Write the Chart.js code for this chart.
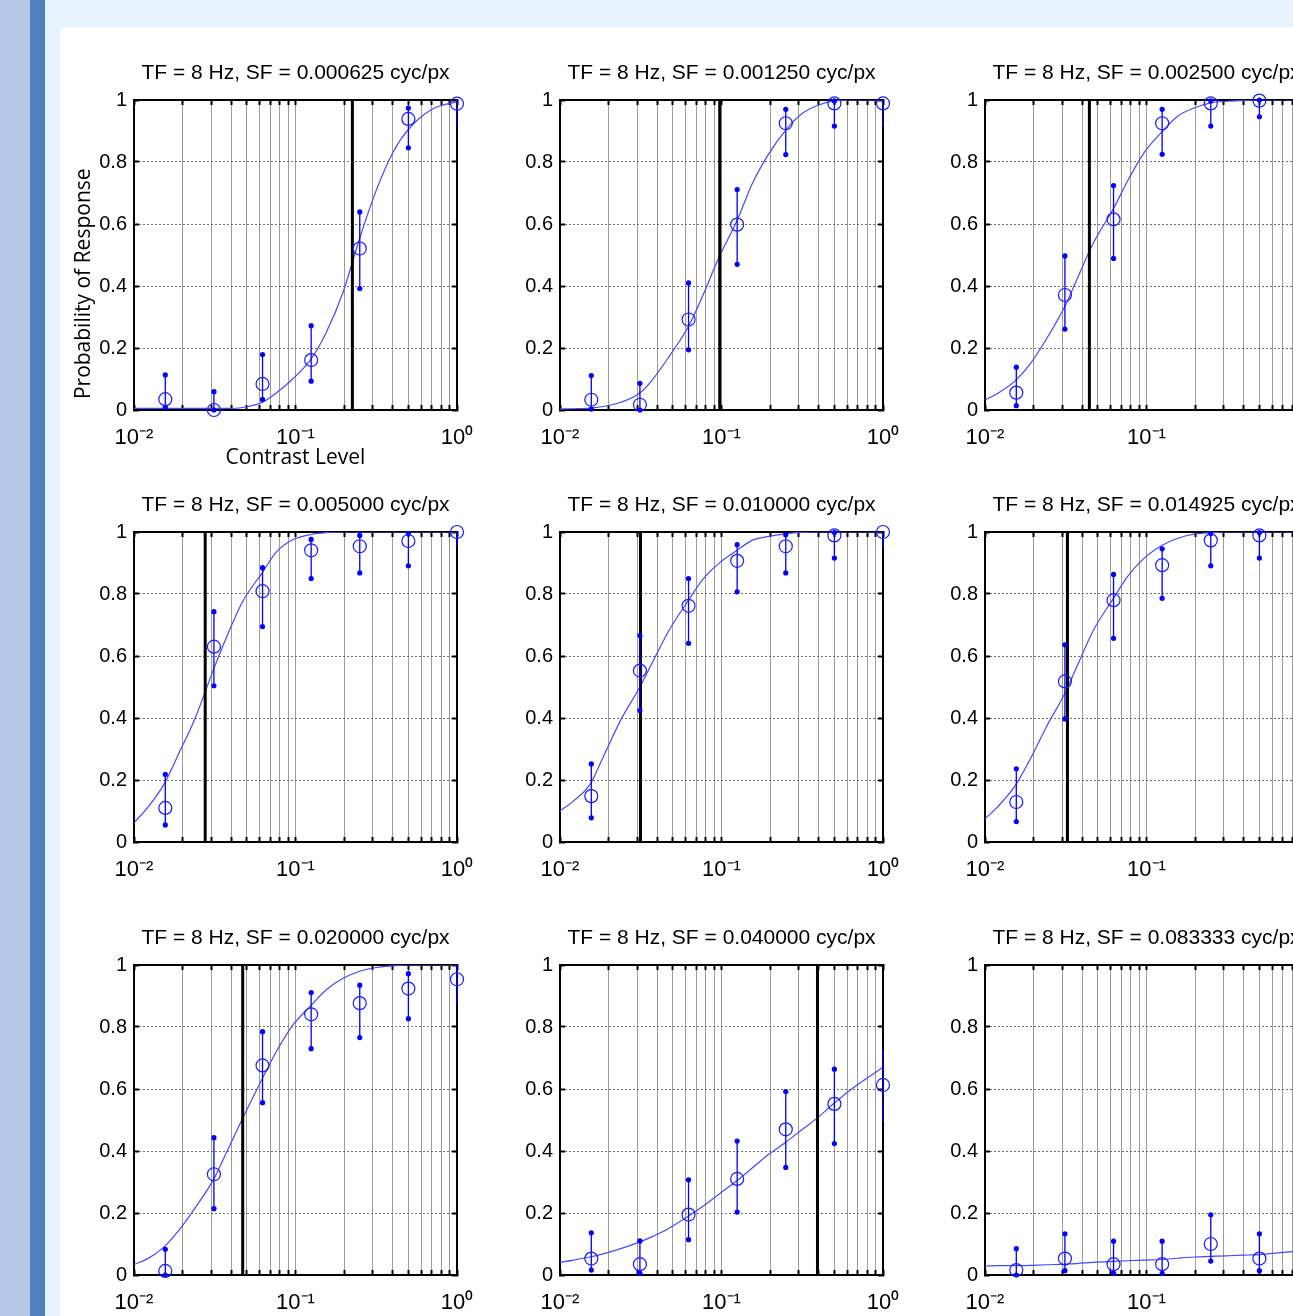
<!DOCTYPE html>
<html>
<head>
<meta charset="utf-8">
<script src="https://cdn.jsdelivr.net/npm/chart.js@4.4.1/dist/chart.umd.min.js"></script>
<style>
  body { margin: 0; width: 1293px; height: 1316px; overflow: hidden; position: relative; background: #e8f2fc; }
  .strip-light { position: absolute; left: 0; top: 0; width: 30px; height: 1316px; background: #b6c8e8; }
  .strip-dark { position: absolute; left: 30px; top: 0; width: 15px; height: 1316px; background: #4f80bd; }
  .sheet { position: absolute; left: 60px; top: 27px; width: 1400px; height: 1400px; background: #fff; border-radius: 6px; }
  canvas { position: absolute; }
</style>
</head>
<body>
<div class="strip-light"></div>
<div class="strip-dark"></div>
<div class="sheet"></div>

<script>
// Contrast levels tested and the x positions where the fitted curves were read
const contrastLevels = [0.015625, 0.03125, 0.0625, 0.125, 0.25, 0.5, 1];
const fitContrast = [0.01, 0.0121, 0.0153, 0.019, 0.0238, 0.03125, 0.037, 0.047, 0.0625, 0.076,
  0.096, 0.125, 0.155, 0.197, 0.25, 0.317, 0.4, 0.5, 0.7, 1];

// Ticks
const xTickValues = [0.01, 0.1, 1];
const xTickLabels = ['10⁻²', '10⁻¹', '10⁰'];
const yTickValues = [0, 0.2, 0.4, 0.6, 0.8, 1];
const yTickLabels = ['0', '0.2', '0.4', '0.6', '0.8', '1'];

const spatialFreqs = ['0.000625', '0.001250', '0.002500', '0.005000', '0.010000', '0.014925', '0.020000', '0.040000', '0.083333'];
const thresholds = [0.225, 0.0975, 0.0443, 0.0276, 0.0315, 0.0324, 0.0471, 0.393, null];

// SF = 0.000625
const mean1 = [0.035, 0.0, 0.084, 0.161, 0.521, 0.939, 0.988];
const lower1 = [0.009, 0.0, 0.034, 0.093, 0.392, 0.846, 0.918];
const upper1 = [0.113, 0.059, 0.179, 0.272, 0.639, 0.974, 1.0];
const fit1 = [0.005, 0.005, 0.005, 0.005, 0.005, 0.005, 0.005, 0.008, 0.025, 0.055, 0.10, 0.165, 0.25, 0.38, 0.555, 0.71, 0.83, 0.905, 0.97, 0.995];

// SF = 0.001250
const mean2 = [0.033, 0.017, 0.292, 0.598, 0.925, 0.989, 0.989];
const lower2 = [0.003, 0.0, 0.194, 0.47, 0.824, 0.916, 0.915];
const upper2 = [0.111, 0.086, 0.41, 0.711, 0.97, 0.997, 1.0];
const fit2 = [0.003, 0.004, 0.006, 0.012, 0.025, 0.055, 0.095, 0.17, 0.27, 0.365, 0.49, 0.612, 0.73, 0.828, 0.903, 0.957, 0.984, 0.997, 1.0, 1.0];

// SF = 0.002500
const mean3 = [0.056, 0.371, 0.615, 0.925, 0.989, 0.998, 1.0];
const lower3 = [0.014, 0.261, 0.489, 0.825, 0.916, 0.946, 0.95];
const upper3 = [0.138, 0.497, 0.724, 0.97, 0.997, 1.0, 1.0];
const fit3 = [0.032, 0.055, 0.093, 0.148, 0.226, 0.335, 0.42, 0.54, 0.65, 0.737, 0.828, 0.898, 0.947, 0.974, 0.991, 0.996, 0.999, 1.0, 1.0, 1.0];

// SF = 0.005000
const mean4 = [0.11, 0.63, 0.809, 0.941, 0.954, 0.971, 1.0];
const lower4 = [0.055, 0.504, 0.695, 0.85, 0.868, 0.891, 0.948];
const upper4 = [0.218, 0.743, 0.885, 0.976, 0.989, 0.995, 1.0];
const fit4 = [0.062, 0.11, 0.185, 0.287, 0.397, 0.56, 0.655, 0.775, 0.87, 0.935, 0.975, 0.992, 0.998, 1.0, 1.0, 1.0, 1.0, 1.0, 1.0, 1.0];

// SF = 0.010000
const mean5 = [0.148, 0.553, 0.762, 0.907, 0.954, 0.989, 1.0];
const lower5 = [0.078, 0.424, 0.641, 0.807, 0.868, 0.916, 0.948];
const upper5 = [0.252, 0.666, 0.85, 0.959, 0.991, 0.998, 1.0];
const fit5 = [0.1, 0.132, 0.185, 0.287, 0.394, 0.5, 0.575, 0.68, 0.78, 0.845, 0.898, 0.941, 0.973, 0.986, 0.995, 0.999, 1.0, 1.0, 1.0, 1.0];

// SF = 0.014925
const mean6 = [0.129, 0.518, 0.78, 0.893, 0.973, 0.989, 1.0];
const lower6 = [0.066, 0.397, 0.657, 0.786, 0.891, 0.916, 0.95];
const upper6 = [0.236, 0.636, 0.863, 0.946, 0.995, 0.998, 1.0];
const fit6 = [0.075, 0.116, 0.18, 0.266, 0.368, 0.48, 0.565, 0.684, 0.786, 0.855, 0.914, 0.957, 0.979, 0.993, 0.998, 1.0, 1.0, 1.0, 1.0, 1.0];

// SF = 0.020000
const mean7 = [0.013, 0.325, 0.676, 0.841, 0.877, 0.924, 0.954];
const lower7 = [0.0, 0.214, 0.556, 0.73, 0.766, 0.827, 0.873];
const upper7 = [0.083, 0.443, 0.785, 0.911, 0.935, 0.972, 1.0];
const fit7 = [0.034, 0.052, 0.09, 0.145, 0.215, 0.31, 0.39, 0.505, 0.635, 0.72, 0.805, 0.87, 0.92, 0.957, 0.98, 0.992, 0.997, 1.0, 1.0, 1.0];

// SF = 0.040000
const mean8 = [0.053, 0.035, 0.195, 0.31, 0.47, 0.552, 0.613];
const lower8 = [0.016, 0.005, 0.114, 0.203, 0.347, 0.424, 0.493];
const upper8 = [0.136, 0.11, 0.307, 0.432, 0.592, 0.664, 0.726];
const fit8 = [0.041, 0.048, 0.058, 0.07, 0.085, 0.107, 0.123, 0.15, 0.19, 0.22, 0.26, 0.305, 0.345, 0.39, 0.428, 0.47, 0.51, 0.555, 0.615, 0.67];

// SF = 0.083333
const mean9 = [0.016, 0.053, 0.035, 0.035, 0.1, 0.053, 0.07];
const lower9 = [0.0, 0.014, 0.005, 0.005, 0.045, 0.014, 0.03];
const upper9 = [0.085, 0.133, 0.109, 0.109, 0.194, 0.133, 0.15];
const fit9 = [0.029, 0.03, 0.03, 0.031, 0.033, 0.035, 0.037, 0.041, 0.044, 0.046, 0.048, 0.05, 0.054, 0.058, 0.06, 0.062, 0.064, 0.066, 0.073, 0.078];

const panels = [
  [mean1, lower1, upper1, fit1], [mean2, lower2, upper2, fit2], [mean3, lower3, upper3, fit3],
  [mean4, lower4, upper4, fit4], [mean5, lower5, upper5, fit5], [mean6, lower6, upper6, fit6],
  [mean7, lower7, upper7, fit7], [mean8, lower8, upper8, fit8], [mean9, lower9, upper9, fit9]
];

// Layout (axes box positions on the page)
const colLeft = [134, 560, 985];
const rowTop = [100, 532, 965];
const yAxisW = 80, topH = 49, plotW = 323, plotH = 310, xAxisH = 65, padRight = 40, padBottom = 5;

const sansFont = "'Liberation Sans', Arial, sans-serif";
const labelFont = "'Open Sans', 'DejaVu Sans', sans-serif";

// log grid: 1..9 x each decade
const logGrid = [];
[0.01, 0.1].forEach((d) => {
  for (let k = 1; k < 10; k++) logGrid.push(+(k * d).toPrecision(3));
});
logGrid.push(1);

const setLogTicks = (scale) => { scale.ticks = logGrid.map((v) => ({ value: v })); };
const setYTicks = (scale) => { scale.ticks = yTickValues.map((v) => ({ value: v })); };

panels.forEach((p, idx) => {
  const [mean, lower, upper, fit] = p;
  const row = Math.floor(idx / 3);
  const col = idx % 3;

  const canvas = document.createElement('canvas');
  canvas.width = yAxisW + plotW + padRight;
  canvas.height = topH + plotH + xAxisH + padBottom;
  canvas.style.left = (colLeft[col] - yAxisW) + 'px';
  canvas.style.top = (rowTop[row] - topH) + 'px';
  document.body.appendChild(canvas);

  const errData = [];
  contrastLevels.forEach((x, i) => {
    errData.push({ x: x, y: lower[i] }, { x: x, y: upper[i] }, { x: x, y: null });
  });

  const datasets = [
    {
      label: 'Data',
      data: contrastLevels.map((x, i) => ({ x: x, y: mean[i] })),
      showLine: false,
      pointStyle: 'circle',
      pointRadius: 6.5,
      pointBorderWidth: 1.2,
      pointBorderColor: '#1a1aff',
      pointBackgroundColor: 'rgba(0,0,0,0)',
      clip: false
    },
    {
      label: 'Error',
      data: errData,
      showLine: true,
      spanGaps: false,
      borderColor: '#0000ff',
      borderWidth: 1.3,
      // end markers sitting on the right edge are not shown in the original
      pointRadius: (ctx) => (ctx.raw && ctx.raw.x === 1 ? 0 : 2.6),
      pointBorderWidth: 0,
      pointBackgroundColor: '#0000ff',
      clip: false
    }
  ];

  if (thresholds[idx] !== null) {
    datasets.push({
      label: 'Threshold',
      data: [{ x: thresholds[idx], y: 0 }, { x: thresholds[idx], y: 1 }],
      borderColor: '#000',
      borderWidth: 3,
      pointRadius: 0
    });
  }

  datasets.push({
    label: 'Fit',
    data: fitContrast.map((x, i) => ({ x: x, y: fit[i] })),
    borderColor: '#4747ff',
    borderWidth: 1.2,
    pointRadius: 0,
    cubicInterpolationMode: 'monotone'
  });

  new Chart(canvas, {
    type: 'line',
    data: { datasets: datasets },
    options: {
      responsive: false,
      animation: false,
      layout: { padding: { top: 10, right: padRight, bottom: padBottom, left: 0 } },
      plugins: {
        legend: { display: false },
        tooltip: { enabled: false },
        title: {
          display: true,
          text: 'TF = 8 Hz, SF = ' + spatialFreqs[idx] + ' cyc/px',
          fullSize: false,
          color: '#000',
          font: { family: sansFont, size: 21, weight: 'normal', lineHeight: '24px' },
          padding: { top: 0, bottom: 15 }
        }
      },
      scales: {
        x: {
          type: 'logarithmic',
          position: 'bottom',
          min: 0.01,
          max: 1,
          afterBuildTicks: setLogTicks,
          afterFit: (s) => { s.height = xAxisH; },
          ticks: {
            autoSkip: false,
            maxRotation: 0,
            minRotation: 0,
            padding: 21,
            color: '#000',
            font: { family: sansFont, size: 22, lineHeight: '24px' },
            callback: (v) => {
              const i = xTickValues.indexOf(v);
              return i >= 0 ? xTickLabels[i] : '';
            }
          },
          grid: { color: '#9c9c9c', lineWidth: 1, tickLength: -5, tickColor: '#000', tickWidth: 2 },
          border: { color: '#000', width: 2 },
          title: {
            display: idx === 0,
            text: 'Contrast Level',
            color: '#000',
            font: { family: labelFont, size: 21, lineHeight: '24px' },
            padding: { top: 0, bottom: 5 }
          }
        },
        x2: {
          type: 'logarithmic',
          position: 'top',
          min: 0.01,
          max: 1,
          afterBuildTicks: setLogTicks,
          afterFit: (s) => { s.height = 0; },
          ticks: { display: false, autoSkip: false },
          grid: { drawOnChartArea: false, tickLength: -5, tickColor: '#000', tickWidth: 2 },
          border: { color: '#000', width: 2 }
        },
        y: {
          type: 'linear',
          position: 'left',
          min: 0,
          max: 1,
          afterBuildTicks: setYTicks,
          afterFit: (s) => { s.width = yAxisW; },
          ticks: {
            padding: 12,
            color: '#000',
            font: { family: sansFont, size: 20, lineHeight: '24px' },
            callback: (v, i) => yTickLabels[i]
          },
          grid: { color: '#6e6e6e', lineWidth: 1, tickLength: -5, tickColor: '#000', tickWidth: 2 },
          border: { color: '#000', width: 2, dash: [2, 2] },
          title: {
            display: idx === 0,
            text: '  Probability of Response',
            align: 'start',
            color: '#000',
            font: { family: labelFont, size: 21, lineHeight: '24px' },
            padding: { top: 18, bottom: 0 }
          }
        },
        y2: {
          type: 'linear',
          position: 'right',
          min: 0,
          max: 1,
          afterBuildTicks: setYTicks,
          afterFit: (s) => { s.width = 0; },
          ticks: { display: false },
          grid: { drawOnChartArea: false, tickLength: -5, tickColor: '#000', tickWidth: 2 },
          border: { color: '#000', width: 2 }
        }
      }
    }
  });
});
</script>
</body>
</html>
